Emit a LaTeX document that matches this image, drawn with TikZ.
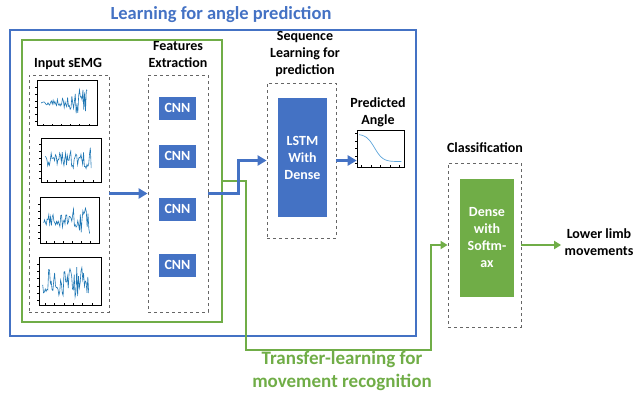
\documentclass[tikz,border=0pt]{standalone}
\usepackage{fontspec}
\setmainfont{Carlito}
\usetikzlibrary{arrows.meta, positioning, calc}
\definecolor{tlblue}{HTML}{4472C4}
\definecolor{tlgreen}{HTML}{70AD47}
\definecolor{trace}{HTML}{1F77B4}
\definecolor{tracelt}{HTML}{5DA5DA}

% jagged sEMG trace inside a plot node: node, seed, start amplitude, end amplitude
\newcommand{\emgtrace}[4]{%
  \pgfmathsetseed{#2}
  \draw[trace, line width=0.6pt, shift={(#1.west)}]
    plot[samples=55, domain=4:50] (\x, {(#3+(#4-#3)*((\x-4)/46)^2)*rand});
  \foreach \t in {0.1,0.25,...,0.95} {
    \draw[line width=0.3pt] ($(#1.south west)!\t!(#1.north west)$) -- ++(-2pt,0);
    \draw[line width=0.3pt] ($(#1.south west)!\t!(#1.south east)$) -- ++(0,2pt);
  }
}

\begin{document}
\begin{tikzpicture}[x=1pt, y=-1pt,
  frame/.style={rectangle, draw=gray!80!black, dashed, line width=0.8pt},
  layer/.style={rectangle, fill=tlblue, text=white, font=\fontsize{14}{17}\selectfont\bfseries, align=center},
  label/.style={font=\fontsize{14}{17}\selectfont\bfseries, align=center},
  plotbox/.style={rectangle, draw, line width=0.6pt, inner sep=0pt},
  arrow/.style={-{Triangle[length=9pt, width=10pt]}, line width=2.6pt, draw=tlblue},
  garrow/.style={-{Triangle[length=7pt, width=8pt]}, line width=1.8pt, draw=tlgreen},
]
  \useasboundingbox (0,0) rectangle (635,394);

  % outer frames
  \node[rectangle, draw=tlblue, line width=1.5pt, minimum width=406pt, minimum height=306pt] (angle) at (213,183) {};
  \node[font=\fontsize{18.5}{22}\selectfont\bfseries, text=tlblue] (title) at (221,15) {Learning for angle prediction};
  \node[rectangle, draw=tlgreen, line width=1.8pt, minimum width=200pt, minimum height=282pt] (transfer) at (122,181) {};

  % input signals
  \node[frame, minimum width=80pt, minimum height=237pt] (inbox) at (69,193.5) {};
  \node[label] (inlabel) at (68,64) {Input sEMG};
  \node[plotbox, minimum width=60pt, minimum height=45pt] (emg1) at (67.5,103) {};
  \node[plotbox, minimum width=60pt, minimum height=44pt] (emg2) at (71.5,160) {};
  \node[plotbox, minimum width=59pt, minimum height=46pt] (emg3) at (69.5,220) {};
  \node[plotbox, minimum width=62pt, minimum height=48pt] (emg4) at (70,281) {};
  \emgtrace{emg1}{11}{2}{20}
  \emgtrace{emg2}{23}{7}{14}
  \emgtrace{emg3}{37}{6}{18}
  \emgtrace{emg4}{41}{14}{18}

  % feature extraction
  \node[frame, minimum width=60pt, minimum height=237pt] (featbox) at (178,193.5) {};
  \node[label] (featlabel) at (178,55) {Features\\Extraction};
  \foreach \n/\y in {1/108, 2/156, 3/209, 4/265}
    \node[layer, minimum width=37pt, minimum height=23pt, inner sep=0pt] (cnn\n) at (177.5,\y) {CNN};

  % sequence learning
  \node[frame, minimum width=69pt, minimum height=155pt] (seqbox) at (301.5,160.5) {};
  \node[label] (seqlabel) at (305,54) {Sequence\\Learning for\\prediction};
  \node[layer, minimum width=49pt, minimum height=119pt, inner sep=0pt] (lstm) at (302.5,157.5) {LSTM\\With\\Dense};

  % predicted angle
  \node[plotbox, minimum width=47pt, minimum height=37pt] (anglepl) at (380.5,148.5) {};
  \node[label] (anglelabel) at (378,112) {Predicted\\Angle};
  \draw[tracelt, line width=0.7pt, shift={(anglepl.south west)}]
    plot[samples=40, domain=0.05:0.95] (47*\x, {-37*(0.12+0.04*\x+0.78/(1+exp((\x-0.38)*11)))});
  \foreach \t in {0.1,0.3,...,0.9} {
    \draw[line width=0.3pt] ($(anglepl.south west)!\t!(anglepl.north west)$) -- ++(-2pt,0);
    \draw[line width=0.3pt] ($(anglepl.south west)!\t!(anglepl.south east)$) -- ++(0,2pt);
  }

  % classification
  \node[frame, minimum width=73pt, minimum height=164pt] (classbox) at (484.5,245) {};
  \node[label] (classlabel) at (485,148) {Classification};
  \node[layer, fill=tlgreen, minimum width=54pt, minimum height=118pt, inner sep=0pt] (dense) at (487,238) {Dense\\with\\Softm-\\ax};
  \node[label] (out) at (599,242) {Lower limb\\movements};

  % connectors
  \draw[arrow] (inbox.east) -- (featbox.west);
  \draw[garrow] (transfer.east) -- ++(23,0) -- ++(0,169) -| ([xshift=-17pt]classbox.west) -- (classbox.west);
  \draw[arrow] (featbox.east) -- ++(30,0) |- (seqbox.west);
  \draw[arrow] (seqbox.east) -- (seqbox.east -| anglepl.west);
  \draw[garrow] (classbox.east) -- (classbox.east -| out.west);
  \node[font=\fontsize{19}{23}\selectfont\bfseries, text=tlgreen, align=center] (tlabel) at (342,371) {Transfer-learning for\\movement recognition};
\end{tikzpicture}
\end{document}
